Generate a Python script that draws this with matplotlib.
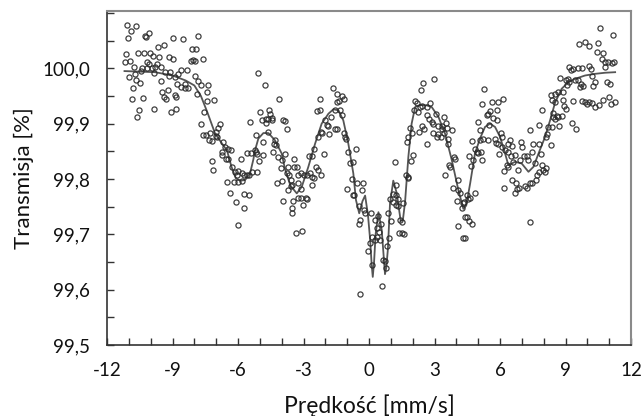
import matplotlib
matplotlib.use("Agg")
import matplotlib.pyplot as plt
from matplotlib.ticker import FixedLocator, FixedFormatter, MultipleLocator

plt.rcParams['font.family'] = ['Lato', 'DejaVu Sans']

# measured points (velocity mm/s, transmission %)
vel_pts = [
    -11.10, -10.67, -10.92, -11.04, -10.28, -10.06, -10.23, -8.96, -8.52, -9.68, -9.41, -8.09,
    -11.15, -10.60, -10.32, -10.02, -9.91, -9.60, -9.15, -8.99, -11.19, -10.93, -10.15, -10.08,
    -9.73, -9.80, -9.54, -10.78, -10.41, -10.18, -9.95, -10.44, -9.34, -9.11, -9.85, -10.72,
    -8.60, -8.32, -8.15, -8.05, -8.73, -9.16, -8.90, -11.01, -10.69, -10.50, -9.51, -8.81,
    -8.61, -8.43, -8.28, -8.43, -10.82, -9.47, -9.22, -9.39, -9.28, -8.89, -8.86, -10.87,
    -10.37, -10.52, -9.83, -9.07, -8.84, -10.64,
    -7.85, -7.92, -7.97, -7.59, -7.97, -7.82, -7.69, -7.36, -7.43, -7.89, -7.40, -7.08,
    -5.07, -4.75, -4.12, -7.56, -7.71, -7.62, -7.48, -7.27, -6.82, -6.90, -7.02, -7.01,
    -7.33, -7.21, -6.95, -6.67, -6.60, -6.44, -6.32, -6.75, -6.75, -6.55, -6.44, -5.86,
    -7.21, -7.13, -6.26, -6.14, -5.98, -5.83, -5.71, -5.60, -5.50, -6.06, -6.17, -5.98,
    -5.83, -6.49, -5.37, -5.14, -6.37, -6.09, -5.71, -5.48, -5.71, -6.02, -5.45, -5.42,
    -5.57, -5.18, -5.22, -5.14, -5.02, -4.84, -5.19, -4.87, -4.99, -4.57, -4.92, -4.73,
    -4.61, -4.46, -4.53, -4.43, -4.70, -3.92, -4.31, -4.34, -4.26, -4.38, -4.15, -4.00,
    -4.03, -4.20, -3.97, -3.95, -4.61,
    -3.85, -3.77, -3.85, -3.72, -3.44, -3.31, -3.77, -3.65, -3.57, -3.51, -3.42, -3.24,
    -3.11, -2.96, -2.85, -2.70, -2.63, -2.50, -2.44, -2.35, -2.20, -3.69, -3.57, -3.24,
    -3.11, -3.47, -3.24, -3.11, -2.90, -2.82, -3.01, -3.51, -3.51, -3.34, -3.08, -2.75,
    -2.60, -2.63, -2.50, -2.32, -2.17, -2.05, -2.21, -2.40, -2.24, -2.23, -2.02, -1.94,
    -1.86, -1.76, -1.82, -1.56, -1.45, -1.66, -1.45, -1.25, -1.14, -1.48, -1.36, -1.56,
    -1.33, -1.25, -1.13, -1.10, -1.05, -0.95, -0.87, -0.72, -0.61, -0.79, -1.02, -0.75,
    -0.67, -0.53, -0.26, -0.34, -0.46, -0.41, -0.23, -0.46, -0.18, 0.09, 0.06, -0.03,
    0.15, 0.28, 0.15, -0.41,
    0.28, 0.43, 0.55, 0.35, 0.46, 0.35, 0.50, 0.66, 0.73, 0.78, 0.61, 0.84,
    0.92, 0.86, 1.01, 0.96, 1.11, 1.22, 1.31, 1.11, 1.22, 1.34, 1.24, 1.19,
    1.42, 1.53, 1.39, 1.50, 1.62, 1.57, 1.68, 1.77, 1.80, 1.91, 2.00, 1.73,
    1.80, 1.88, 1.95, 2.11, 2.18, 2.06, 2.26, 2.34, 2.41, 2.49, 2.37, 2.99,
    2.67, 2.79, 2.64, 2.75, 2.87, 2.95, 3.05, 3.18, 3.33, 3.45, 3.51, 3.56,
    3.45, 2.95, 3.10, 3.18, 3.28, 3.33, 3.60, 3.82, 3.60, 2.67, 2.31, 2.41,
    2.53, 3.48, 3.71, 3.68, 3.91, 3.94, 3.86, 4.06, 4.09, 4.17, 4.02, 4.28,
    4.37, 4.24, 4.09, 4.29, 4.40,
    4.40, 4.47, 4.60, 4.73, 4.55, 4.47, 4.86, 4.63, 4.67, 4.58, 4.78, 4.85,
    4.93, 5.01, 5.11, 5.16, 4.70, 5.08, 4.98, 5.08, 5.24, 5.44, 5.28, 5.19,
    5.62, 5.92, 6.15, 5.44, 5.39, 5.54, 5.88, 5.69, 5.85, 5.50, 5.77, 5.80,
    5.92, 6.08, 6.05, 6.11, 5.97, 6.23, 6.38, 6.35, 6.46, 6.53, 6.50, 6.69,
    6.61, 6.31, 6.38, 6.20, 6.84, 6.92, 6.96, 7.02, 7.11, 7.22, 7.27, 7.53,
    7.76, 7.86, 7.45, 7.60, 7.91, 8.06, 7.95, 8.09, 6.53, 6.72, 6.76, 6.87,
    6.69, 7.14, 7.22, 7.37, 7.48, 7.63, 7.68, 7.79, 6.20, 7.37, 7.37, 7.76,
    7.94, 8.34, 8.40, 8.41, 8.21, 8.40, 8.14, 8.11, 8.31, 8.44,
    8.52, 8.67, 8.86, 8.75, 9.01, 9.08, 9.16, 9.25, 9.36, 9.56, 9.74, 10.05,
    10.15, 10.20, 8.52, 8.90, 8.95, 9.01, 8.82, 8.67, 8.60, 8.52, 8.70, 9.28,
    9.47, 9.36, 9.77, 9.89, 9.97, 10.08, 10.23, 10.35, 10.53, 10.73, 11.01, 11.08,
    11.27, 9.10, 9.16, 9.43, 9.59, 9.71, 9.66, 9.82, 10.35, 10.27, 10.89, 11.04,
    10.58, 11.19, 9.62, 9.89, 10.09, 10.50, 10.46, 10.70, 10.66, 10.81, 10.96, 11.14,
    11.24, 10.81,
]
trans_pts = [
    100.078, 100.076, 100.067, 100.055, 100.059, 100.063, 100.056, 100.055, 100.053, 100.039, 100.042, 100.035,
    100.026, 100.028, 100.028, 100.028, 100.023, 100.020, 100.021, 100.016, 100.011, 100.014, 100.011, 100.008,
    100.008, 100.002, 100.002, 100.002, 100.001, 100.001, 100.001, 99.996, 99.993, 99.993, 99.991, 99.990,
    99.997, 99.997, 100.013, 100.015, 99.990, 99.986, 99.984, 99.984, 99.979, 99.974, 99.977, 99.971,
    99.967, 99.964, 99.965, 99.971, 99.965, 99.958, 99.960, 99.948, 99.945, 99.951, 99.948, 99.945,
    99.947, 99.925, 99.926, 99.921, 99.927, 99.912,
    100.059, 100.035, 100.014, 100.016, 99.987, 99.977, 99.969, 99.969, 99.957, 99.953, 99.941, 99.943,
    99.992, 99.970, 99.945, 99.921, 99.900, 99.880, 99.880, 99.883, 99.900, 99.893, 99.885, 99.877,
    99.870, 99.868, 99.876, 99.867, 99.858, 99.855, 99.852, 99.849, 99.843, 99.836, 99.837, 99.836,
    99.833, 99.817, 99.821, 99.813, 99.814, 99.810, 99.807, 99.808, 99.808, 99.807, 99.795, 99.795,
    99.797, 99.795, 99.812, 99.813, 99.775, 99.759, 99.772, 99.771, 99.747, 99.717, 99.903, 99.847,
    99.847, 99.849, 99.852, 99.845, 99.832, 99.843, 99.880, 99.867, 99.921, 99.924, 99.907, 99.909,
    99.909, 99.911, 99.917, 99.906, 99.902, 99.906, 99.870, 99.864, 99.861, 99.849, 99.840, 99.834,
    99.819, 99.793, 99.797, 99.760, 99.885,
    99.904, 99.891, 99.846, 99.822, 99.836, 99.822, 99.810, 99.807, 99.798, 99.790, 99.822, 99.808,
    99.811, 99.807, 99.807, 99.810, 99.804, 99.801, 99.822, 99.816, 99.808, 99.780, 99.788, 99.792,
    99.781, 99.760, 99.765, 99.765, 99.765, 99.763, 99.753, 99.747, 99.739, 99.703, 99.706, 99.841,
    99.842, 99.789, 99.855, 99.876, 99.883, 99.845, 99.885, 99.922, 99.924, 99.945, 99.906, 99.897,
    99.896, 99.912, 99.882, 99.891, 99.891, 99.965, 99.953, 99.950, 99.945, 99.939, 99.941, 99.925,
    99.924, 99.916, 99.883, 99.876, 99.873, 99.849, 99.828, 99.831, 99.855, 99.800, 99.781, 99.771,
    99.771, 99.792, 99.792, 99.780, 99.751, 99.726, 99.744, 99.718, 99.738, 99.739, 99.684, 99.669,
    99.696, 99.690, 99.645, 99.592,
    99.726, 99.733, 99.718, 99.711, 99.705, 99.696, 99.690, 99.654, 99.651, 99.639, 99.607, 99.679,
    99.693, 99.738, 99.724, 99.763, 99.772, 99.771, 99.763, 99.759, 99.753, 99.751, 99.790, 99.831,
    99.726, 99.723, 99.703, 99.702, 99.700, 99.757, 99.807, 99.801, 99.804, 99.833, 99.843, 99.867,
    99.876, 99.893, 99.883, 99.941, 99.937, 99.924, 99.921, 99.930, 99.931, 99.973, 99.961, 99.980,
    99.930, 99.937, 99.915, 99.909, 99.903, 99.900, 99.917, 99.895, 99.895, 99.912, 99.901, 99.893,
    99.883, 99.883, 99.876, 99.882, 99.876, 99.890, 99.873, 99.889, 99.864, 99.864, 99.885, 99.896,
    99.891, 99.808, 99.821, 99.825, 99.840, 99.837, 99.783, 99.798, 99.780, 99.775, 99.761, 99.756,
    99.759, 99.747, 99.715, 99.693, 99.732,
    99.693, 99.732, 99.724, 99.718, 99.763, 99.771, 99.774, 99.765, 99.823, 99.841, 99.834, 99.855,
    99.849, 99.847, 99.849, 99.834, 99.868, 99.871, 99.903, 99.888, 99.873, 99.871, 99.963, 99.936,
    99.939, 99.939, 99.945, 99.918, 99.915, 99.923, 99.925, 99.911, 99.906, 99.897, 99.873, 99.865,
    99.863, 99.876, 99.883, 99.858, 99.845, 99.852, 99.849, 99.864, 99.871, 99.859, 99.841, 99.843,
    99.831, 99.825, 99.822, 99.814, 99.817, 99.834, 99.867, 99.858, 99.842, 99.842, 99.834, 99.863,
    99.864, 99.845, 99.849, 99.828, 99.825, 99.813, 99.817, 99.819, 99.799, 99.792, 99.781, 99.783,
    99.774, 99.787, 99.783, 99.792, 99.793, 99.798, 99.807, 99.813, 99.784, 99.723, 99.889, 99.898,
    99.924, 99.951, 99.943, 99.919, 99.894, 99.894, 99.882, 99.875, 99.862, 99.912,
    99.953, 99.957, 99.958, 99.982, 99.979, 99.969, 100.002, 99.997, 99.999, 100.001, 100.000, 100.004,
    99.999, 99.987, 99.939, 99.942, 99.931, 99.926, 99.913, 99.912, 99.913, 99.909, 99.896, 99.901,
    99.891, 99.941, 99.941, 99.939, 99.935, 99.939, 99.937, 99.930, 99.934, 99.942, 99.948, 99.935,
    99.939, 99.981, 99.975, 99.978, 99.979, 99.972, 99.966, 99.968, 99.975, 99.968, 99.976, 99.971,
    100.073, 100.060, 100.044, 100.048, 100.041, 100.046, 100.030, 100.028, 100.017, 100.011, 100.011, 100.010,
    100.012, 100.002,
]

# fitted curve
fit_vel = [
    -11.2, -10.5, -9.8, -9.0, -8.4, -8.0, -7.7, -7.4, -7.05, -6.75, -6.5, -6.3, -6.1, -5.9,
    -5.68, -5.45, -5.3, -5.22, -5.07, -4.84, -4.61, -4.31, -4.0, -3.85, -3.6, -3.31, -3.08,
    -2.78, -2.47, -2.17, -1.86, -1.63, -1.40, -1.18, -0.95, -0.72, -0.6, -0.45, -0.3, -0.18,
    -0.05, 0.05, 0.12, 0.17, 0.23, 0.3, 0.43, 0.58, 0.67, 0.73, 0.79, 0.86, 0.96, 1.11, 1.27,
    1.45, 1.55, 1.65, 1.80, 1.95, 2.11, 2.35, 2.64, 2.87, 3.18, 3.48, 3.79, 4.09, 4.32, 4.45,
    4.63, 4.85, 5.08, 5.31, 5.54, 5.77, 6.0, 6.23, 6.38, 6.69, 6.99, 7.30, 7.53, 7.76, 8.06,
    8.29, 8.52, 8.82, 9.13, 9.44, 9.89, 10.35, 10.81, 11.27,
]
fit_trans = [
    99.995, 99.994, 99.993, 99.987, 99.978, 99.969, 99.950, 99.920, 99.882, 99.865, 99.851, 99.822, 99.801, 99.797,
    99.798, 99.810, 99.835, 99.852, 99.873, 99.883, 99.883, 99.870, 99.846, 99.818, 99.788, 99.774, 99.786,
    99.822, 99.864, 99.900, 99.918, 99.926, 99.924, 99.906, 99.864, 99.810, 99.762, 99.738, 99.760, 99.770,
    99.735, 99.690, 99.645, 99.623, 99.650, 99.700, 99.740, 99.708, 99.660, 99.628, 99.640, 99.672, 99.756, 99.797, 99.774,
    99.724, 99.726, 99.759, 99.840, 99.900, 99.930, 99.934, 99.933, 99.930, 99.912, 99.882, 99.834, 99.780, 99.746, 99.752,
    99.792, 99.846, 99.873, 99.894, 99.900, 99.894, 99.876, 99.846, 99.825, 99.831, 99.828, 99.813, 99.822, 99.846, 99.876,
    99.906, 99.938, 99.963, 99.975, 99.981, 99.987, 99.990, 99.992, 99.993,
]

x_ticks = [-12, -9, -6, -3, 0, 3, 6, 9, 12]
x_labels = ['-12', '-9', '-6', '-3', '0', '3', '6', '9', '12']
y_ticks = [99.5, 99.6, 99.7, 99.8, 99.9, 100.0]
y_labels = ['99,5', '99,6', '99,7', '99,8', '99,9', '100,0']

fig = plt.figure(figsize=(6.42, 4.16), dpi=100)
ax = fig.add_axes([0.1667, 0.1707, 0.8163, 0.8029])

ax.plot(fit_vel, fit_trans, color='#555555', lw=1.3, zorder=2)
ax.plot(vel_pts, trans_pts, linestyle='none', marker='o', ms=3.7, mfc='none',
        mec='#2a2a2a', mew=0.9, alpha=0.9, zorder=3)

ax.set_xlim(-12, 12)
ax.set_ylim(99.5, 100.1036)

ax.xaxis.set_major_locator(FixedLocator(x_ticks))
ax.xaxis.set_major_formatter(FixedFormatter(x_labels))
ax.xaxis.set_minor_locator(MultipleLocator(1))
ax.yaxis.set_major_locator(FixedLocator(y_ticks))
ax.yaxis.set_major_formatter(FixedFormatter(y_labels))
ax.yaxis.set_minor_locator(MultipleLocator(0.05))

ax.tick_params(which='both', direction='in', length=5, width=1, color='#333333',
               top=False, right=False)
ax.tick_params(which='major', labelsize=13.5, pad=12, labelcolor='#111111')

for s in ['left', 'bottom']:
    ax.spines[s].set_color('#333333')
    ax.spines[s].set_linewidth(1.2)
for s in ['top', 'right']:
    ax.spines[s].set_color('#8a8a8a')
    ax.spines[s].set_linewidth(1.5)

ax.set_xlabel('Prędkość [mm/s]', fontsize=16.5, labelpad=11, color='#111111')
ax.set_ylabel('Transmisja [%]', fontsize=16, labelpad=6, color='#111111')

fig.savefig('out.png', dpi=100)
